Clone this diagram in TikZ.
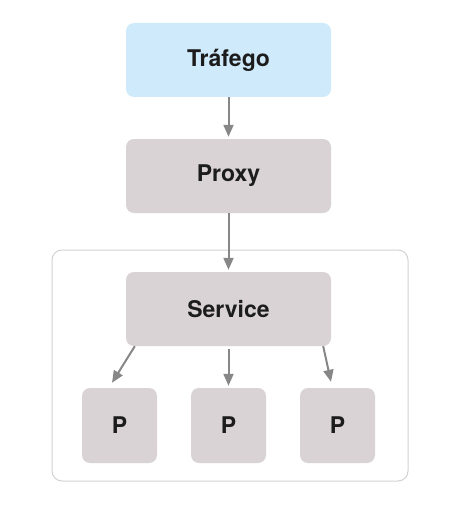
\documentclass[tikz,border=0pt]{standalone}
\usepackage{fontspec}
\setmainfont{TeX Gyre Heros}
\usetikzlibrary{arrows.meta,calc}
\definecolor{trafficblue}{HTML}{CFEAFB}
\definecolor{boxgray}{HTML}{D9D3D5}
\definecolor{framegray}{HTML}{D2D2D2}
\definecolor{arrowgray}{HTML}{878787}
\definecolor{textdark}{HTML}{1C1C1C}
\begin{document}
\begin{tikzpicture}
    [x=1pt,y=-1pt,
     box/.style={rounded corners=8pt, fill=boxgray, inner sep=0pt,
       minimum width=205pt, minimum height=74pt, text=textdark,
       font=\fontsize{23}{27}\selectfont\bfseries},
     pod/.style={box, minimum width=75pt, minimum height=75pt},
     frame/.style={draw=framegray, rounded corners=10pt, line width=1pt,
       minimum width=356pt, minimum height=231pt},
     link/.style={draw=arrowgray, line width=2pt,
       -{Triangle[width=10pt,length=12pt]}}]
    \useasboundingbox (0,0) rectangle (456,524);

    \node[frame] (cluster) at (230,365.5) {};

    \node[box, fill=trafficblue] (trafego) at (228.5,60) {Tráfego};
    \node[box] (proxy) at (228.5,176) {Proxy};
    \node[box] (service) at (228.5,309) {Service};

    \foreach \i/\x in {1/119.5, 2/228.5, 3/337.5}
    {
      \node[pod] (p\i) at (\x,425.5) {P};
    }

    \draw[link, shorten >=2pt] (trafego) -- (proxy);
    \draw[link, shorten >=2pt] (proxy) -- (service);
    % pods
    \draw[link] ($(service.south west)+(9,0)$) -- ($(p1.north)+(-7.5,-5)$);
    \draw[link, shorten <=3pt, shorten >=2pt] (service) -- (p2);
    \draw[link] ($(service.south east)+(-8,0)$) -- ($(p3.north)+(-6.5,-6)$);
  \end{tikzpicture}
\end{document}
